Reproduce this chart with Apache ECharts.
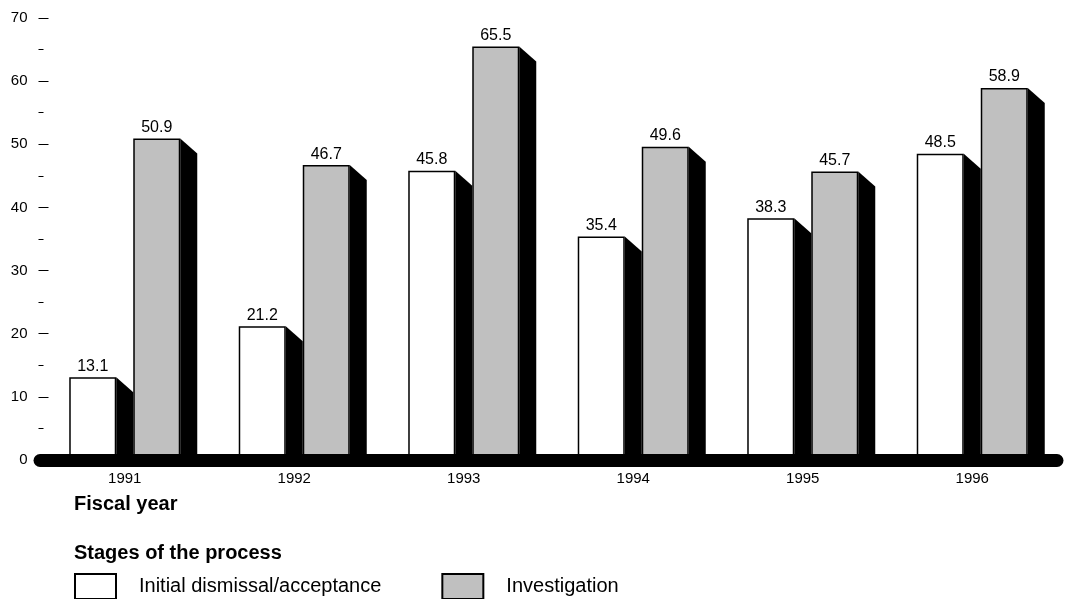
<!DOCTYPE html>
<html>
<head>
<meta charset="utf-8">
<title>Complaints by stage of the process, fiscal years 1991-1996</title>
<script src="https://cdn.jsdelivr.net/npm/echarts@6/dist/echarts.min.js"></script>
<style>
  html, body { margin: 0; padding: 0; background: #fff; }
  #chart { width: 1068px; height: 599px; }
</style>
</head>
<body>
<div id="chart"></div>
<script>
// Fiscal years on the category axis
const years = ['1991', '1992', '1993', '1994', '1995', '1996'];
// Stage values per fiscal year
const initialValues = [13.1, 21.2, 45.8, 35.4, 38.3, 48.5];
const investigationValues = [50.9, 46.7, 65.5, 49.6, 45.7, 58.9];
// Series names shown in the legend
const seriesNames = ['Initial dismissal/acceptance', 'Investigation'];

const FONT = '"Liberation Sans", Arial, Helvetica, sans-serif';
const BAR_W = 47;          // front face width
const GAP = 17;            // gap between the pair of bars
const DEPTH_X = 17;        // extrusion to the right
const DEPTH_Y = 15;        // drop of the extruded top edge

// Black extruded side face drawn to the right of each bar
function sideFace(offset) {
  return function (params, api) {
    const cat = api.value(0);
    const top = api.coord([cat, api.value(1)]);
    const base = api.coord([cat, 0]);
    const xr = top[0] + offset + BAR_W / 2;
    return {
      type: 'polygon',
      shape: {
        points: [
          [xr, top[1]],
          [xr + DEPTH_X, top[1] + DEPTH_Y],
          [xr + DEPTH_X, base[1]],
          [xr, base[1]]
        ]
      },
      style: { fill: '#000' }
    };
  };
}

const half = (BAR_W + GAP) / 2;
const labelStyle = {
  show: true, position: 'top', distance: 3,
  color: '#000', fontSize: 16, fontFamily: FONT
};

const chart = echarts.init(document.getElementById('chart'), null, { renderer: 'canvas' });
chart.setOption({
  animation: false,
  backgroundColor: '#fff',
  textStyle: { fontFamily: FONT },
  title: [
    { text: 'Fiscal year', left: 74, top: 494, padding: 0,
      textStyle: { fontSize: 20, fontWeight: 'bold', color: '#000', fontFamily: FONT } },
    { text: 'Stages of the process', left: 74, top: 543, padding: 0,
      textStyle: { fontSize: 20, fontWeight: 'bold', color: '#000', fontFamily: FONT } }
  ],
  legend: {
    data: seriesNames,
    left: 74, top: 573, padding: 0,
    icon: 'rect',
    itemWidth: 41, itemHeight: 25, itemGap: 60,
    textStyle: { fontSize: 20, color: '#000', fontFamily: FONT, padding: [0, 0, 0, 18] }
  },
  grid: { left: 40, right: 11, top: 18, bottom: 139, containLabel: false },
  xAxis: {
    type: 'category',
    data: years,
    z: 10,
    axisLine: { show: true, lineStyle: { color: '#000', width: 13, cap: 'round' } },
    axisTick: { show: false },
    axisLabel: { color: '#000', fontSize: 15, fontFamily: FONT, margin: 11 }
  },
  yAxis: {
    type: 'value',
    min: 0, max: 70, interval: 10,
    offset: 1.5,
    axisLine: { show: false },
    splitLine: { show: false },
    axisTick: { show: true, inside: true, length: 10, lineStyle: { color: '#000', width: 1 } },
    minorTick: { show: true, splitNumber: 2, length: 5, lineStyle: { color: '#000', width: 1 } },
    axisLabel: { color: '#000', fontSize: 15, fontFamily: FONT, margin: 11 }
  },
  series: [
    {
      name: seriesNames[0], type: 'bar', z: 3,
      data: initialValues,
      barWidth: BAR_W, barGap: (GAP / BAR_W * 100).toFixed(1) + '%',
      itemStyle: { color: '#fff', borderColor: '#000', borderWidth: 1.5 },
      label: labelStyle
    },
    {
      name: seriesNames[1], type: 'bar', z: 3,
      data: investigationValues,
      barWidth: BAR_W,
      itemStyle: { color: '#c0c0c0', borderColor: '#000', borderWidth: 1.5 },
      label: labelStyle
    },
    {
      name: 'side-initial', type: 'custom', z: 2, silent: true, clip: false,
      renderItem: sideFace(-half),
      encode: { x: 0, y: 1 },
      data: initialValues.map((v, i) => [i, v])
    },
    {
      name: 'side-investigation', type: 'custom', z: 2, silent: true, clip: false,
      renderItem: sideFace(half),
      encode: { x: 0, y: 1 },
      data: investigationValues.map((v, i) => [i, v])
    }
  ]
});
</script>
</body>
</html>
